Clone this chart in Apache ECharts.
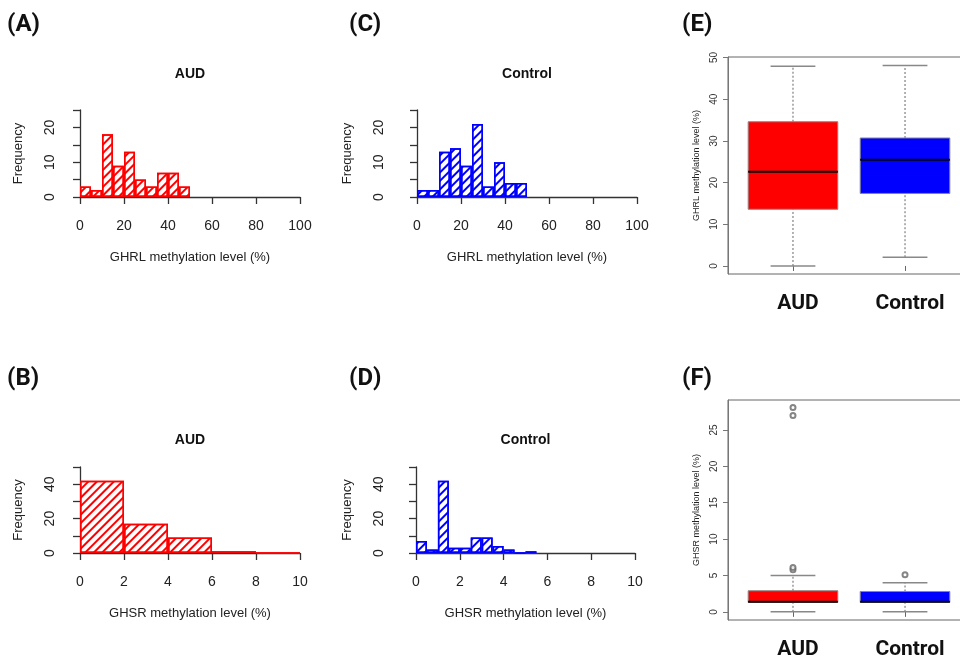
<!DOCTYPE html>
<html>
<head>
<meta charset="utf-8">
<title>GHRL / GHSR methylation</title>
<script src="https://cdn.jsdelivr.net/npm/echarts@6/dist/echarts.min.js"></script>
<style>
html, body { margin: 0; padding: 0; background: #fff; }
#main { width: 960px; height: 659px; }
</style>
</head>
<body>
<div id="main"></div>
<script>
// histogram bin edges
var ghrlEdges = [0, 5, 10, 15, 20, 25, 30, 35, 40, 45, 50, 55, 60, 65, 70, 75, 80, 85, 90, 95, 100];
var ghsrAudEdges = [0, 2, 4, 6, 8, 10];
var ghsrCtrlEdges = [0, 0.5, 1, 1.5, 2, 2.5, 3, 3.5, 4, 4.5, 5, 5.5, 6, 6.5, 7, 7.5, 8, 8.5, 9, 9.5, 10];

// frequencies (bins after the last one are empty)
var ghrlAud = [3, 2, 18, 9, 13, 5, 3, 7, 7, 3];
var ghrlCtrl = [2, 2, 13, 14, 9, 21, 3, 10, 4, 4];
var ghsrAud = [42, 17, 9, 1, 0];
var ghsrCtrl = [7, 2, 42, 3, 3, 9, 9, 4, 2, 0, 1];

// box plots: [min, Q1, median, Q3, max]
var groups = ['AUD', 'Control'];
var ghrlBoxAud = [0, 13.6, 22.6, 34.6, 47.9];
var ghrlBoxCtrl = [2.1, 17.4, 25.5, 30.7, 48.1];
var ghsrBoxAud = [0, 1.3, 1.4, 2.9, 5.0];
var ghsrBoxCtrl = [0, 1.3, 1.4, 2.8, 4.0];
var ghsrOutAud = [5.8, 6.1, 27.0, 28.1];
var ghsrOutCtrl = [5.1];

var ghrlTicks = [0, 10, 20, 30, 40, 50];
var ghsrTicks = [0, 5, 10, 15, 20, 25];

var RED = '#ff0000', BLUE = '#0000ff';
var axisFont = 'Liberation Sans';

var grids = [], xAxes = [], yAxes = [], series = [], texts = [];

function hatch(color) {
    return {
        color: '#ffffff',
        borderColor: color,
        borderWidth: 1.5,
        decal: {
            symbol: 'rect',
            symbolSize: 1,
            color: color,
            dashArrayX: [1, 0],
            dashArrayY: [1.2, 4],
            rotation: -Math.PI / 4
        }
    };
}

function addHist(p) {
    var g = grids.length;
    grids.push({left: p.left, top: p.top, width: p.width, height: p.height, outerBoundsMode: 'none'});
    var cats = [], vals = [];
    for (var i = 0; i < p.edges.length - 1; i++) {
        cats.push(p.edges[i] + '-' + p.edges[i + 1]);
        vals.push(i < p.counts.length ? p.counts[i] : null);
    }
    var labelStyle = {fontFamily: axisFont, fontSize: 14, color: '#222'};
    xAxes.push({
        type: 'value', gridIndex: g, min: 0, max: p.xmax, interval: p.xstep, offset: p.xoff,
        name: p.xname, nameLocation: 'middle', nameGap: 50,
        nameTextStyle: {fontFamily: axisFont, fontSize: 13, color: '#222'},
        axisLine: {lineStyle: {color: '#333', width: 1.3}},
        axisTick: {length: 7, lineStyle: {color: '#333', width: 1.3}},
        axisLabel: Object.assign({margin: 18}, labelStyle),
        splitLine: {show: false}
    });
    xAxes.push({type: 'category', gridIndex: g, data: cats, show: false});
    yAxes.push({
        type: 'value', gridIndex: g, min: 0, max: p.ymax, interval: p.ystep, offset: p.yoff,
        name: 'Frequency', nameLocation: 'middle', nameGap: 47, nameRotate: 90,
        nameTextStyle: {fontFamily: axisFont, fontSize: 13, color: '#222'},
        axisLine: {show: true, lineStyle: {color: '#333', width: 1.3}},
        axisTick: {show: true, length: 7, lineStyle: {color: '#333', width: 1.3}},
        axisLabel: Object.assign({
            margin: 15, rotate: 90,
            formatter: function (v) { return v % p.labelStep === 0 ? v : ''; }
        }, labelStyle),
        splitLine: {show: false}
    });
    series.push({
        type: 'bar', xAxisIndex: xAxes.length - 1, yAxisIndex: yAxes.length - 1,
        data: vals, barCategoryGap: '0%', silent: true,
        itemStyle: hatch(p.color)
    });
    texts.push({
        type: 'text', x: p.left + p.width / 2, y: p.titleY,
        style: {text: p.title, font: 'bold 14px ' + axisFont, fill: '#111', align: 'center', verticalAlign: 'middle'}
    });
}

function renderBox(params, api) {
    var x = api.value(0);
    var fill = api.value(6) === 1 ? RED : BLUE;
    var pMin = api.coord([x, api.value(1)]);
    var pQ1 = api.coord([x, api.value(2)]);
    var pMed = api.coord([x, api.value(3)]);
    var pQ3 = api.coord([x, api.value(4)]);
    var pMax = api.coord([x, api.value(5)]);
    var bl = api.coord([x - 0.4, 0])[0], br = api.coord([x + 0.4, 0])[0];
    var cl = api.coord([x - 0.2, 0])[0], cr = api.coord([x + 0.2, 0])[0];
    var whisker = {stroke: '#666', lineWidth: 1, lineDash: [2, 2]};
    var cap = {stroke: '#888', lineWidth: 1.5};
    return {
        type: 'group',
        children: [
            {type: 'line', shape: {x1: pMin[0], y1: pMin[1], x2: pQ1[0], y2: pQ1[1]}, style: whisker},
            {type: 'line', shape: {x1: pQ3[0], y1: pQ3[1], x2: pMax[0], y2: pMax[1]}, style: whisker},
            {type: 'line', shape: {x1: cl, y1: pMin[1], x2: cr, y2: pMin[1]}, style: cap},
            {type: 'line', shape: {x1: cl, y1: pMax[1], x2: cr, y2: pMax[1]}, style: cap},
            {type: 'rect', shape: {x: bl, y: pQ3[1], width: br - bl, height: pQ1[1] - pQ3[1]},
                style: {fill: fill, stroke: '#8a8a8a', lineWidth: 1}},
            {type: 'line', shape: {x1: bl, y1: pMed[1], x2: br, y2: pMed[1]}, style: {stroke: '#000', lineWidth: 2}}
        ]
    };
}

function addBox(p) {
    var g = grids.length;
    grids.push({left: 728, top: p.top, width: 242, height: p.height, show: true,
        borderColor: '#666', borderWidth: 1, outerBoundsMode: 'none'});
    xAxes.push({
        type: 'value', gridIndex: g, min: 0.42, max: 2.58,
        axisLine: {show: false}, splitLine: {show: false},
        axisTick: {customValues: [1, 2], length: 5, lineStyle: {color: '#666'}},
        axisLabel: {
            customValues: [1, 2], margin: 19, padding: [0, 0, 0, 10],
            formatter: function (v) { return groups[Math.round(v) - 1]; },
            fontFamily: 'Roboto', fontWeight: 'bold', fontSize: 21, color: '#111'
        }
    });
    yAxes.push({
        type: 'value', gridIndex: g, min: p.ymin, max: p.ymax,
        name: p.yname, nameLocation: 'middle', nameGap: 27, nameRotate: 90,
        nameTextStyle: {fontFamily: axisFont, fontSize: 9, color: '#222'},
        axisLine: {show: true, lineStyle: {color: '#777'}},
        axisTick: {show: true, customValues: p.ticks, length: 5, lineStyle: {color: '#777'}},
        axisLabel: {customValues: p.ticks, rotate: 90, margin: 9, fontFamily: axisFont, fontSize: 10, color: '#333'},
        splitLine: {show: false}
    });
    var xi = xAxes.length - 1, yi = yAxes.length - 1;
    series.push({
        type: 'custom', xAxisIndex: xi, yAxisIndex: yi, silent: true,
        renderItem: renderBox,
        data: [[1].concat(p.aud, [1]), [2].concat(p.ctrl, [2])]
    });
    if (p.outAud) {
        var pts = p.outAud.map(function (v) { return [1, v]; })
            .concat(p.outCtrl.map(function (v) { return [2, v]; }));
        series.push({
            type: 'scatter', xAxisIndex: xi, yAxisIndex: yi, silent: true,
            symbol: 'emptyCircle', symbolSize: 5,
            itemStyle: {color: '#666', borderColor: '#666', borderWidth: 1},
            data: pts
        });
    }
}

addHist({left: 80, top: 110, width: 220, height: 87, edges: ghrlEdges, counts: ghrlAud, color: RED,
    xmax: 100, xstep: 20, xoff: 4, ymax: 25, ystep: 5, yoff: 8, labelStep: 10,
    xname: 'GHRL methylation level (%)', title: 'AUD', titleY: 74});
addHist({left: 417, top: 110, width: 220, height: 87, edges: ghrlEdges, counts: ghrlCtrl, color: BLUE,
    xmax: 100, xstep: 20, xoff: 4, ymax: 25, ystep: 5, yoff: 16, labelStep: 10,
    xname: 'GHRL methylation level (%)', title: 'Control', titleY: 74});
addHist({left: 80, top: 467, width: 220, height: 86, edges: ghsrAudEdges, counts: ghsrAud, color: RED,
    xmax: 10, xstep: 2, xoff: 4, ymax: 50, ystep: 10, yoff: 8, labelStep: 20,
    xname: 'GHSR methylation level (%)', title: 'AUD', titleY: 440});
addHist({left: 416, top: 467, width: 219, height: 86, edges: ghsrCtrlEdges, counts: ghsrCtrl, color: BLUE,
    xmax: 10, xstep: 2, xoff: 4, ymax: 50, ystep: 10, yoff: 15, labelStep: 20,
    xname: 'GHSR methylation level (%)', title: 'Control', titleY: 440});

addBox({top: 57, height: 217, ymin: -1.93, ymax: 50.13, ticks: ghrlTicks,
    yname: 'GHRL methylation level (%)', aud: ghrlBoxAud, ctrl: ghrlBoxCtrl});
addBox({top: 400, height: 220, ymin: -1.12, ymax: 29.12, ticks: ghsrTicks,
    yname: 'GHSR methylation level (%)', aud: ghsrBoxAud, ctrl: ghsrBoxCtrl,
    outAud: ghsrOutAud, outCtrl: ghsrOutCtrl});

// panel letters
[['(A)', 7, 25], ['(C)', 349, 25], ['(E)', 682, 25], ['(B)', 7, 379], ['(D)', 349, 379], ['(F)', 682, 379]]
    .forEach(function (t) {
        texts.push({
            type: 'text', x: t[1], y: t[2],
            style: {text: t[0], font: 'bold 24px Roboto', fill: '#111', verticalAlign: 'middle'}
        });
    });

var myChart = echarts.init(document.getElementById('main'));
myChart.setOption({
    animation: false,
    backgroundColor: '#ffffff',
    grid: grids,
    xAxis: xAxes,
    yAxis: yAxes,
    series: series,
    graphic: texts
});
</script>
</body>
</html>
